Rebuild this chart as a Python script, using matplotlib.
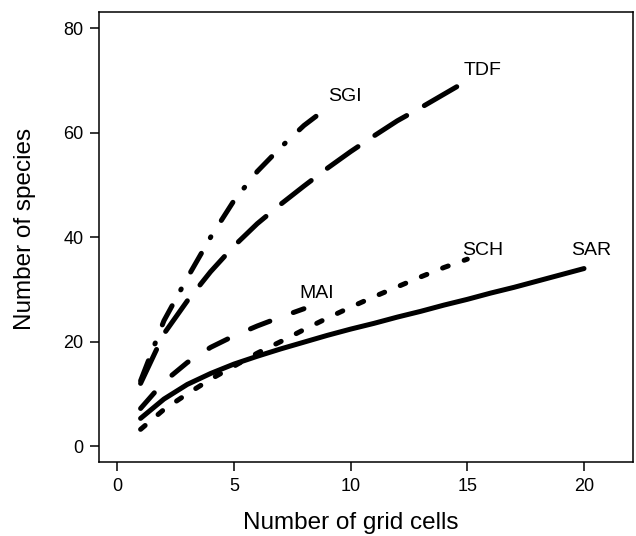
import matplotlib
matplotlib.use("Agg")
import matplotlib.pyplot as plt

plt.rcParams['font.family'] = ['Liberation Sans', 'DejaVu Sans']
plt.rcParams['lines.scale_dashes'] = False

# species accumulation curves
sar_x = list(range(1, 21))
sar_y = [5.3, 9.0, 11.8, 13.9, 15.7, 17.2, 18.6, 19.9, 21.2, 22.4,
         23.5, 24.7, 25.8, 27.0, 28.1, 29.3, 30.4, 31.6, 32.8, 34.0]

sch_x = list(range(1, 16))
sch_y = [3.2, 7.0, 10.0, 12.8, 15.3, 17.8, 20.0, 22.3, 24.5, 26.6,
         28.6, 30.5, 32.4, 34.2, 35.8]

mai_x = list(range(1, 9))
mai_y = [7.2, 12.3, 16.0, 18.9, 21.1, 23.0, 24.7, 26.3]

tdf_x = list(range(1, 16))
tdf_y = [12.0, 21.5, 27.8, 33.4, 38.3, 42.6, 46.3, 49.8, 53.2, 56.4,
         59.4, 62.3, 64.8, 67.4, 70.0]

sgi_x = list(range(1, 10))
sgi_y = [12.5, 24.0, 32.2, 40.0, 47.0, 52.6, 57.2, 61.4, 64.8]

# label name, x, y
labels = [("SGI", 9.05, 67.0), ("TDF", 14.86, 72.0), ("SCH", 14.76, 37.5),
          ("SAR", 19.43, 37.5), ("MAI", 7.8, 29.2)]

fig = plt.figure(figsize=(6.36, 5.36), dpi=100)
ax = fig.add_axes([0.1561, 0.1386, 0.8392, 0.8396])

lw = 3.6
ax.plot(sar_x, sar_y, color='black', lw=lw, solid_capstyle='round',
        solid_joinstyle='round')
ax.plot(sch_x, sch_y, color='black', lw=lw, dashes=(4.3, 12.2),
        dash_capstyle='round')
ax.plot(mai_x, mai_y, color='black', lw=lw, dashes=(15, 18),
        dash_capstyle='round')
ax.plot(tdf_x, tdf_y, color='black', lw=lw, dashes=(27, 14.6),
        dash_capstyle='round')
ax.plot(sgi_x, sgi_y, color='black', lw=lw, dashes=(15.5, 13, 0.7, 14),
        dash_capstyle='round')

for name, lx, ly in labels:
    ax.text(lx, ly, name, fontsize=14, ha='left', va='center')

ax.set_xlim(-0.77, 22.1)
ax.set_ylim(-3.0, 83.2)
ax.set_xticks([0, 5, 10, 15, 20])
ax.set_yticks([0, 20, 40, 60, 80])
ax.tick_params(direction='out', length=6.5, width=1.1, labelsize=13, pad=5)
for s in ax.spines.values():
    s.set_linewidth(1.1)

ax.set_xlabel('Number of grid cells', fontsize=17.5)
ax.set_ylabel('Number of species', fontsize=17.5)
ax.xaxis.label.set_va('center')
ax.yaxis.label.set_va('center')
ax.xaxis.set_label_coords(0.4707, -0.1362)
ax.yaxis.set_label_coords(-0.1392, 0.517)

fig.savefig('out.png', dpi=100)
